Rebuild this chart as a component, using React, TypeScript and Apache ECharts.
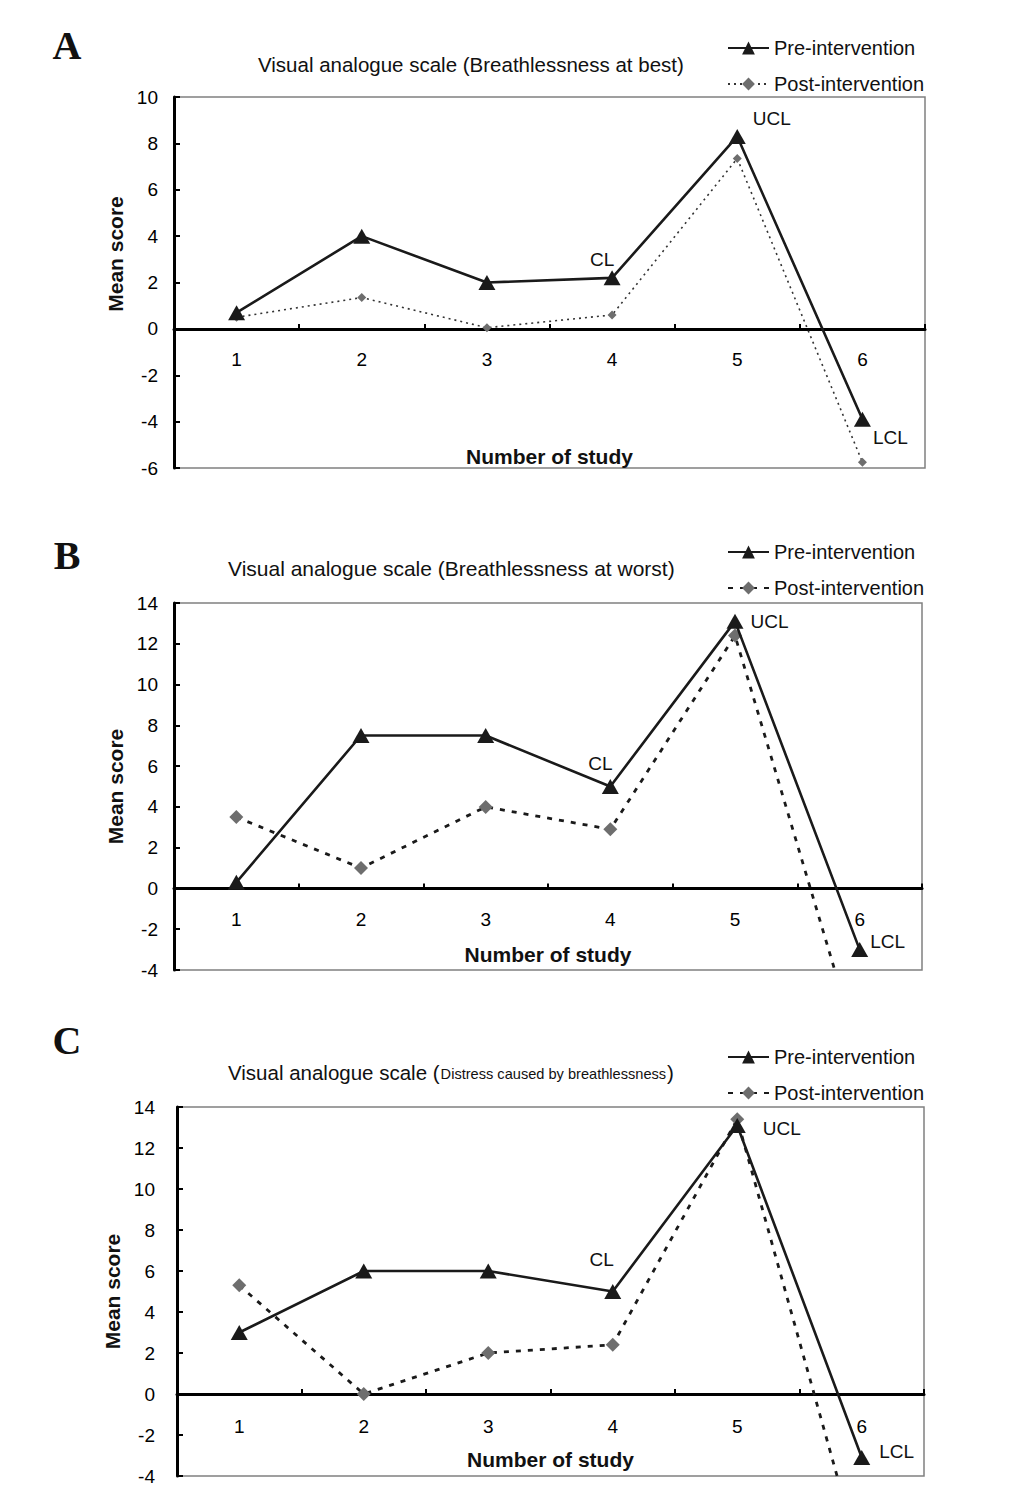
import React, { useEffect, useRef } from "react";
import * as echarts from "echarts";

// ---- data ----
const categories = ["1", "2", "3", "4", "5", "6"];
const preA = [0.7, 4.0, 2.0, 2.2, 8.3, -3.9];
const postA = [0.5, 1.35, 0.05, 0.6, 7.35, -5.75];
const preB = [0.3, 7.5, 7.5, 5.0, 13.1, -3.0];
const postB = [3.5, 1.0, 4.0, 2.9, 12.4, -8.1];
const preC = [3.0, 6.0, 6.0, 5.0, 13.1, -3.1];
const postC = [5.3, 0.0, 2.0, 2.4, 13.4, -8.3];
const yMin = [-6, -4, -4];
const yMax = [10, 14, 14];
const preName = "Pre-intervention";
const postName = "Post-intervention";
const titlesAB = [
  "Visual analogue scale (Breathlessness at best)",
  "Visual analogue scale (Breathlessness at worst)",
];
const titleCMain = "Visual analogue scale (";
const titleCSub = "Distress caused by breathlessness";
const panelLetters = ["A", "B", "C"];
const controlLabels = ["CL", "UCL", "LCL"]; // at study 4, 5, 6

const FONT = '"Liberation Sans", Arial, sans-serif';

export default function App() {
  const ref = useRef<HTMLDivElement>(null);
  useEffect(() => {
    document.body.style.margin = "0";
    if (!ref.current) return;
    const chart = echarts.init(ref.current, null, { renderer: "svg" });

    const grids = [
      { left: 174, right: 108, top: 97, height: 371 },
      { left: 174, right: 111, top: 603, height: 367 },
      { left: 177, right: 109, top: 1107, height: 369 },
    ];
    // x labels / names are laid out from the grid bottom; shift them up to sit below the zero line
    const xNameGap = [-22, -26, -27];
    const xLabelMargin = [-118, -60, -59];
    const yLabelMargin = [16, 16, 22];
    const yNameGap = [30, 44, 50];
    const yNamePad = [[0, 0, 0, 57], [0, 0, 0, 0], [0, 0, 0, 0]];

    // label offsets for CL / UCL / LCL per panel
    const labelCfg = [
      [
        { position: "top", offset: [-10, 4] },
        { position: "right", offset: [2, -18] },
        { position: "right", offset: [-3, 18] },
      ],
      [
        { position: "top", offset: [-10, -1] },
        { position: "right", offset: [2, 0] },
        { position: "right", offset: [-3, -8] },
      ],
      [
        { position: "top", offset: [-11, -10] },
        { position: "right", offset: [12, 3] },
        { position: "right", offset: [4, -6] },
      ],
    ];

    const pres = [preA, preB, preC];
    const posts = [postA, postB, postC];

    const series: any[] = [];
    for (let i = 0; i < 3; i++) {
      const isA = i === 0;
      series.push({
        name: postName + " " + panelLetters[i],
        type: "line",
        xAxisIndex: i,
        yAxisIndex: i,
        data: posts[i],
        symbol: "diamond",
        symbolSize: isA ? 9 : 14,
        itemStyle: { color: "#6e6e6e" },
        lineStyle: isA
          ? { color: "#333", width: 1.6, type: [2, 4] }
          : { color: "#1a1a1a", width: 2.8, type: [5, 7] },
        z: 2,
      });
      series.push({
        name: preName + " " + panelLetters[i],
        type: "line",
        xAxisIndex: i,
        yAxisIndex: i,
        data: pres[i].map((v, j) => {
          if (j >= 3) {
            const c = labelCfg[i][j - 3];
            return {
              value: v,
              label: {
                show: true,
                formatter: controlLabels[j - 3],
                position: c.position,
                offset: c.offset,
                fontSize: 19,
                fontFamily: FONT,
                color: "#111",
              },
            };
          }
          return v;
        }),
        symbol: "triangle",
        symbolSize: [17, 15],
        itemStyle: { color: "#1a1a1a" },
        lineStyle: { color: "#1a1a1a", width: 2.6, type: "solid" },
        z: 3,
      });
    }

    const option: any = {
      animation: false,
      backgroundColor: "#fff",
      textStyle: { fontFamily: FONT },
      title: [
        {
          text: titlesAB[0],
          left: 258,
          top: 54,
          padding: 0,
          textStyle: { fontSize: 20.5, fontWeight: "normal", color: "#111", fontFamily: FONT },
        },
        {
          text: titlesAB[1],
          left: 228,
          top: 558,
          padding: 0,
          textStyle: { fontSize: 21, fontWeight: "normal", color: "#111", fontFamily: FONT },
        },
        {
          text: "{a|" + titleCMain + "}{b|" + titleCSub + "}{a|)}",
          left: 228,
          top: 1062,
          padding: 0,
          textStyle: {
            fontFamily: FONT,
            fontWeight: "normal",
            rich: {
              a: { fontSize: 20.5, fontWeight: "normal", color: "#111", fontFamily: FONT },
              b: { fontSize: 14.6, fontWeight: "normal", color: "#111", fontFamily: FONT, padding: [3, 1, 0, 1] },
            },
          },
        },
      ],
      legend: [0, 1, 2].map((i) => ({
        data: [preName + " " + panelLetters[i], postName + " " + panelLetters[i]],
        orient: "vertical",
        left: 727,
        top: [38, 542, 1047][i],
        itemWidth: 41,
        itemHeight: 16,
        itemGap: 16,
        padding: 0,
        formatter: (n: string) => n.slice(0, -2),
        textStyle: { fontSize: 20, color: "#111", fontFamily: FONT },
      })),
      grid: grids.map((g) => ({
        ...g,
        show: true,
        borderColor: "#808080",
        borderWidth: 1.5,
        backgroundColor: "transparent",
      })),
      xAxis: [0, 1, 2].map((i) => ({
        gridIndex: i,
        type: "category",
        data: categories,
        axisLine: { show: true, onZero: true, lineStyle: { color: "#000", width: 3 } },
        axisTick: { show: true, inside: true, length: 5, lineStyle: { color: "#000", width: 2 } },
        axisLabel: { margin: xLabelMargin[i], fontSize: 19, color: "#000", fontFamily: FONT },
        splitLine: { show: false },
        name: "Number of study",
        nameLocation: "middle",
        nameGap: xNameGap[i],
        nameTextStyle: { fontWeight: "bold", fontSize: 21, color: "#111", fontFamily: FONT },
      })),
      yAxis: [0, 1, 2].map((i) => ({
        gridIndex: i,
        type: "value",
        min: yMin[i],
        max: yMax[i],
        interval: 2,
        axisLine: { show: true, onZero: false, lineStyle: { color: "#000", width: 3 } },
        axisTick: { show: true, inside: true, length: 6, lineStyle: { color: "#000", width: 2 } },
        axisLabel: { margin: yLabelMargin[i], fontSize: 19, color: "#000", fontFamily: FONT },
        splitLine: { show: false },
        name: "Mean score",
        nameLocation: "middle",
        nameGap: yNameGap[i],
        nameTextStyle: {
          fontWeight: "bold",
          fontSize: 21,
          color: "#111",
          fontFamily: FONT,
          padding: yNamePad[i],
        },
      })),
      graphic: [
        { x: 67, y: 45 },
        { x: 67, y: 555 },
        { x: 67, y: 1040 },
      ].map((p, i) => ({
        type: "text",
        x: p.x,
        y: p.y,
        style: {
          text: panelLetters[i],
          font: 'bold 40px "Liberation Serif", "Times New Roman", serif',
          fill: "#111",
          textAlign: "center",
          textVerticalAlign: "middle",
        },
      })),
      series,
    };

    chart.setOption(option);
    return () => chart.dispose();
  }, []);

  return <div ref={ref} style={{ width: 1033, height: 1499 }} />;
}
